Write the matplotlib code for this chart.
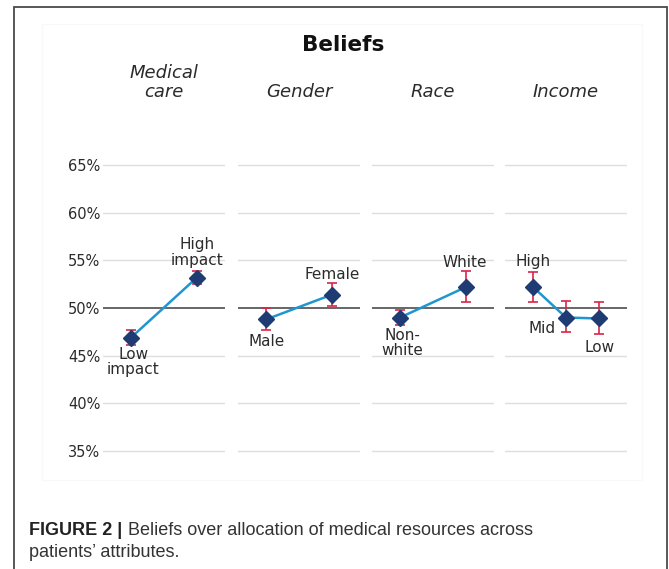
import matplotlib.pyplot as plt
from matplotlib.patches import Rectangle

# panel data (percent)
panels = ['Medical\ncare', 'Gender', 'Race', 'Income']
levels = [
    ['Low\nimpact', 'High\nimpact'],
    ['Male', 'Female'],
    ['Non-\nwhite', 'White'],
    ['High', 'Mid', 'Low'],
]
means = [
    [46.9, 53.2],
    [48.8, 51.4],
    [49.0, 52.2],
    [52.2, 49.0, 48.9],
]
err_lo = [
    [46.1, 52.5],
    [47.7, 50.2],
    [48.2, 50.6],
    [50.6, 47.5, 47.3],
]
err_hi = [
    [47.7, 53.9],
    [50.0, 52.6],
    [49.8, 53.9],
    [53.8, 50.7, 50.6],
]
# label offsets in pixels (dx, dy) for each point
label_offsets = [
    [(2, -24), (0, 25)],
    [(1, -22), (0, 20)],
    [(2, -25), (-1, 25)],
    [(0, 26), (-24, -11), (1, -29)],
]
yticks = [35, 40, 45, 50, 55, 60, 65]

LINE = '#1f96cf'
MARK = '#1f3b73'
ERR = '#d8254a'
GRID = '#dedede'
REF = '#5a5a5a'
TXT = '#2b2b2b'

W, H = 669, 569
fig = plt.figure(figsize=(W / 100, H / 100), dpi=100)

# outer frame and faint inner box
fig.patches.append(Rectangle((14 / W, -0.1), (667 - 14) / W, 1.1 - 7 / H,
                             transform=fig.transFigure, fill=False,
                             edgecolor='#4a4a4a', linewidth=1.3))
fig.patches.append(Rectangle((42 / W, 1 - 480 / H), 600 / W, (480 - 24) / H,
                             transform=fig.transFigure, fill=False,
                             edgecolor='#f8f8f8', linewidth=0.8))

lefts = [103, 238, 372, 505]
pw = 122
ymin, ymax = 34, 66
bottom_px, top_px = 460.5, 155.5

for i, name in enumerate(panels):
    ax = fig.add_axes([lefts[i] / W, 1 - bottom_px / H, pw / W,
                       (bottom_px - top_px) / H])
    n = len(means[i])
    xs = list(range(n))
    pad = 0.426 * (n - 1)
    ax.set_xlim(-pad, n - 1 + pad)
    ax.set_ylim(ymin, ymax)
    for s in ax.spines.values():
        s.set_visible(False)
    for t in yticks:
        if t == 50:
            ax.axhline(t, color=REF, linewidth=1.3, zorder=1)
        else:
            ax.axhline(t, color=GRID, linewidth=1.0, zorder=0)
    ax.set_xticks([])
    ax.set_yticks(yticks)
    if i == 0:
        ax.set_yticklabels([f'{t}%' for t in yticks], fontsize=10.5, color=TXT)
        ax.tick_params(axis='y', length=0, pad=2)
    else:
        ax.set_yticklabels([])
        ax.tick_params(axis='y', length=0)

    lo = [m - l for m, l in zip(means[i], err_lo[i])]
    hi = [h - m for m, h in zip(means[i], err_hi[i])]
    ax.errorbar(xs, means[i], yerr=[lo, hi], fmt='none', ecolor=ERR,
                elinewidth=1.2, capsize=3.4, capthick=1.2, zorder=2)
    ax.plot(xs, means[i], color=LINE, linewidth=1.8, zorder=3)
    ax.plot(xs, means[i], linestyle='none', marker='D', markersize=8,
            color=MARK, zorder=4)

    for x, y, lab, off in zip(xs, means[i], levels[i], label_offsets[i]):
        ax.annotate(lab, (x, y), xytext=off, textcoords='offset pixels',
                    ha='center', va='center', fontsize=11, color=TXT,
                    linespacing=1.0, annotation_clip=False)

    ax.set_title(name, fontsize=13, style='italic', color=TXT, pad=42,
                 linespacing=1.05)

fig.text(343 / W, 1 - 45 / H, 'Beliefs', ha='center', va='center',
         fontsize=15.5, fontweight='bold', color='#111111')

# caption
cap_font = ['Liberation Sans Narrow', 'Liberation Sans', 'DejaVu Sans']
b = fig.text(29 / W, 1 - 535 / H, 'FIGURE 2 |', fontsize=13, fontweight='bold',
             family=cap_font, color='#222222', va='baseline')
fig.canvas.draw()
bb = b.get_window_extent()
fig.text((bb.x1 + 6) / W, 1 - 535 / H,
         'Beliefs over allocation of medical resources across',
         fontsize=13, family=cap_font, color='#333333', va='baseline')
fig.text(29 / W, 1 - 557 / H, 'patients\u2019 attributes.', fontsize=13,
         family=cap_font, color='#333333', va='baseline')

plt.savefig('out.png', dpi=100)
plt.close()
